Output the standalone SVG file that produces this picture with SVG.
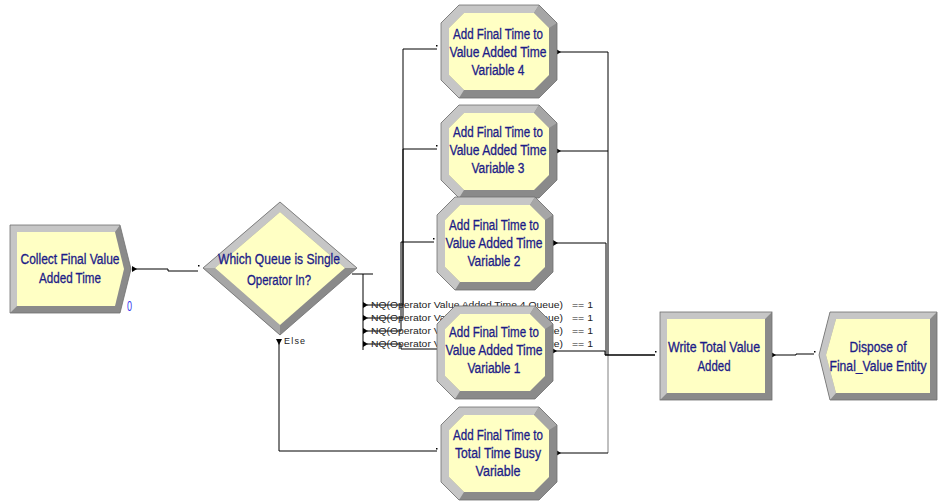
<svg xmlns="http://www.w3.org/2000/svg" xmlns:xlink="http://www.w3.org/1999/xlink" width="945" height="502" viewBox="0 0 945 502">
<style>
.lt{fill:#c6c6c6}
.dk{fill:#8a8a8a}
.md{fill:#a6a6a6}
.in{fill:#ffffc4}
.ol{fill:none;stroke:#6e6e6e;stroke-width:0.8}
.lbl{font-family:"Liberation Sans",Arial,sans-serif;font-size:14px;fill:#1c1c88;stroke:#1c1c88;stroke-width:0.3;text-anchor:middle}
.nq{font-family:"Liberation Sans",Arial,sans-serif;font-size:9px;fill:#222}
.cn{fill:none;stroke:#000;stroke-width:1}
.cg{fill:none;stroke:#808080;stroke-width:1}
.ar{fill:#000}
</style>
<defs>
<g id="proc">
<polygon class="dk" points="18,0 98,0 116,18 116,75 98,93 18,93 0,75 0,18"/>
<polygon class="lt" points="98,0 18,0 0,18 0,75 18,93 23,85 8,70 8,23 23,8 93,8"/>
<polygon class="md" points="98,0 116,18 108,23 93,8"/>
<polygon class="in" points="23,8 93,8 108,23 108,70 93,85 23,85 8,70 8,23"/>
<polygon class="ol" points="18,0 98,0 116,18 116,75 98,93 18,93 0,75 0,18"/>
</g>
<polygon id="exitR" points="0,-3 5,0 0,3"/>
</defs>

<g id="connectors">
<path class="cn" d="M134,269 H168 V271 H198"/>
<path class="cn" d="M352,274 H373 M363,274 V350"/>
<path class="cn" d="M367,305 H403 V49 H437"/>
<path class="cn" d="M367,318 H403 V149 H437"/>
<path class="cn" d="M367,331 H401 V242 H434"/>
<path class="cn" d="M367,344 H401 V349 H437"/>
<path class="cn" d="M279,343 V451 H437"/>
<path class="cn" d="M557,52 H608 V355"/>
<path class="cn" d="M557,151 H608"/>
<path class="cn" d="M554,243 H606 V355"/>
<path class="cn" d="M553,351 H605 V355"/>
<path class="cg" d="M608,355 V453"/>
<path class="cn" d="M557,453 H608"/>
<path class="cn" d="M605,355 H655" style="stroke-width:1.6"/>
<path class="cn" d="M772,355 H796 V354 H814"/>
<use href="#exitR" class="ar" x="132" y="269"/>
<use href="#exitR" class="ar" x="363" y="305"/>
<use href="#exitR" class="ar" x="363" y="318"/>
<use href="#exitR" class="ar" x="363" y="331"/>
<use href="#exitR" class="ar" x="363" y="344"/>
<polygon class="ar" points="276,339 282,339 279,345"/>
<use href="#exitR" class="ar" x="556" y="52"/>
<use href="#exitR" class="ar" x="556" y="151"/>
<use href="#exitR" class="ar" x="553" y="243"/>
<use href="#exitR" class="ar" x="552" y="351"/>
<use href="#exitR" class="ar" x="556" y="453"/>
<use href="#exitR" class="ar" x="771" y="355"/>
<rect class="ar" x="198" y="265" width="1.5" height="1.5"/>
<rect class="ar" x="436" y="45" width="1.5" height="1.5"/>
<rect class="ar" x="436" y="145" width="1.5" height="1.5"/>
<rect class="ar" x="433" y="238" width="1.5" height="1.5"/>
<rect class="ar" x="436" y="448" width="1.5" height="1.5"/>
<rect class="ar" x="655" y="351" width="1.5" height="1.5"/>
<rect class="ar" x="814" y="351" width="1.5" height="1.5"/>
</g>

<g id="labels">
<text class="nq" x="371" y="308" textLength="192" lengthAdjust="spacingAndGlyphs">NQ(Operator Value Added Time 4 Queue)</text>
<text class="nq" x="572" y="308" textLength="21" lengthAdjust="spacingAndGlyphs">== 1</text>
<text class="nq" x="371" y="321" textLength="192" lengthAdjust="spacingAndGlyphs">NQ(Operator Value Added Time 3 Queue)</text>
<text class="nq" x="572" y="321" textLength="21" lengthAdjust="spacingAndGlyphs">== 1</text>
<text class="nq" x="371" y="334" textLength="192" lengthAdjust="spacingAndGlyphs">NQ(Operator Value Added Time 2 Queue)</text>
<text class="nq" x="572" y="334" textLength="21" lengthAdjust="spacingAndGlyphs">== 1</text>
<text class="nq" x="371" y="347" textLength="192" lengthAdjust="spacingAndGlyphs">NQ(Operator Value Added Time 1 Queue)</text>
<text class="nq" x="572" y="347" textLength="21" lengthAdjust="spacingAndGlyphs">== 1</text>
<text class="nq" x="284" y="344" letter-spacing="1.2">Else</text>
</g>

<g id="collect">
<polygon class="dk" points="10,225 120,225 131,269 120,313 10,313"/>
<polygon class="lt" points="10,313 10,225 120,225 115,232 17,232 17,306"/>
<polygon class="in" points="17,232 115,232 124,269 115,306 17,306"/>
<polygon class="ol" points="10,225 120,225 131,269 120,313 10,313"/>
<text class="lbl" x="70" y="264" textLength="99" lengthAdjust="spacingAndGlyphs">Collect Final Value</text>
<text class="lbl" x="70" y="283" textLength="62" lengthAdjust="spacingAndGlyphs">Added Time</text>
<text x="127" y="311" style="font-family:'Liberation Sans',Arial,sans-serif;font-size:14px;fill:#3a3af0" textLength="5" lengthAdjust="spacingAndGlyphs">0</text>
</g>

<g id="decide">
<polygon class="dk" points="203,268 280,202 357,268 280,335"/>
<polygon class="lt" points="203,268 280,202 357,268 345,268 280,212 215,268"/>
<polygon class="md" points="203,268 215,268 280,325 280,335"/>
<polygon class="in" points="215,268 280,212 345,268 280,325"/>
<polygon class="ol" points="203,268 280,202 357,268 280,335"/>
<text class="lbl" x="279" y="264" textLength="122" lengthAdjust="spacingAndGlyphs">Which Queue is Single</text>
<text class="lbl" x="279" y="285" textLength="64" lengthAdjust="spacingAndGlyphs">Operator In?</text>
</g>

<g id="var4">
<use href="#proc" x="441" y="5"/>
<text class="lbl" x="498" y="39" textLength="90" lengthAdjust="spacingAndGlyphs">Add Final Time to</text>
<text class="lbl" x="498" y="57" textLength="97" lengthAdjust="spacingAndGlyphs">Value Added Time</text>
<text class="lbl" x="498" y="75" textLength="53" lengthAdjust="spacingAndGlyphs">Variable 4</text>
</g>

<g id="var3">
<use href="#proc" x="441" y="105"/>
<text class="lbl" x="498" y="137" textLength="90" lengthAdjust="spacingAndGlyphs">Add Final Time to</text>
<text class="lbl" x="498" y="155" textLength="97" lengthAdjust="spacingAndGlyphs">Value Added Time</text>
<text class="lbl" x="498" y="173" textLength="53" lengthAdjust="spacingAndGlyphs">Variable 3</text>
</g>

<g id="var2">
<use href="#proc" x="437" y="197"/>
<text class="lbl" x="494" y="230" textLength="90" lengthAdjust="spacingAndGlyphs">Add Final Time to</text>
<text class="lbl" x="494" y="248" textLength="97" lengthAdjust="spacingAndGlyphs">Value Added Time</text>
<text class="lbl" x="494" y="266" textLength="53" lengthAdjust="spacingAndGlyphs">Variable 2</text>
</g>

<g id="var1">
<use href="#proc" x="437" y="306"/>
<text class="lbl" x="494" y="337" textLength="90" lengthAdjust="spacingAndGlyphs">Add Final Time to</text>
<text class="lbl" x="494" y="355" textLength="97" lengthAdjust="spacingAndGlyphs">Value Added Time</text>
<text class="lbl" x="494" y="373" textLength="53" lengthAdjust="spacingAndGlyphs">Variable 1</text>
</g>

<g id="busy">
<use href="#proc" x="441" y="407"/>
<text class="lbl" x="498" y="440" textLength="90" lengthAdjust="spacingAndGlyphs">Add Final Time to</text>
<text class="lbl" x="498" y="458" textLength="86" lengthAdjust="spacingAndGlyphs">Total Time Busy</text>
<text class="lbl" x="498" y="476" textLength="45" lengthAdjust="spacingAndGlyphs">Variable</text>
</g>

<g id="write">
<rect class="dk" x="660" y="312" width="112" height="88"/>
<polygon class="lt" points="660,400 660,312 772,312 765,319 667,319 667,393"/>
<rect class="in" x="667" y="319" width="98" height="74"/>
<rect class="ol" x="660" y="312" width="112" height="88"/>
<text class="lbl" x="714" y="352" textLength="92" lengthAdjust="spacingAndGlyphs">Write Total Value</text>
<text class="lbl" x="714" y="371" textLength="33" lengthAdjust="spacingAndGlyphs">Added</text>
</g>

<g id="dispose">
<polygon class="dk" points="819,355 830,312 937,312 937,400 830,400"/>
<polygon class="lt" points="830,400 819,355 830,312 937,312 930,319 836,319 826,355 836,393"/>
<polygon class="in" points="826,355 836,319 930,319 930,393 836,393"/>
<polygon class="ol" points="819,355 830,312 937,312 937,400 830,400"/>
<text class="lbl" x="878" y="352" textLength="57" lengthAdjust="spacingAndGlyphs">Dispose of</text>
<text class="lbl" x="878" y="371" textLength="97" lengthAdjust="spacingAndGlyphs">Final_Value Entity</text>
</g>
</svg>
